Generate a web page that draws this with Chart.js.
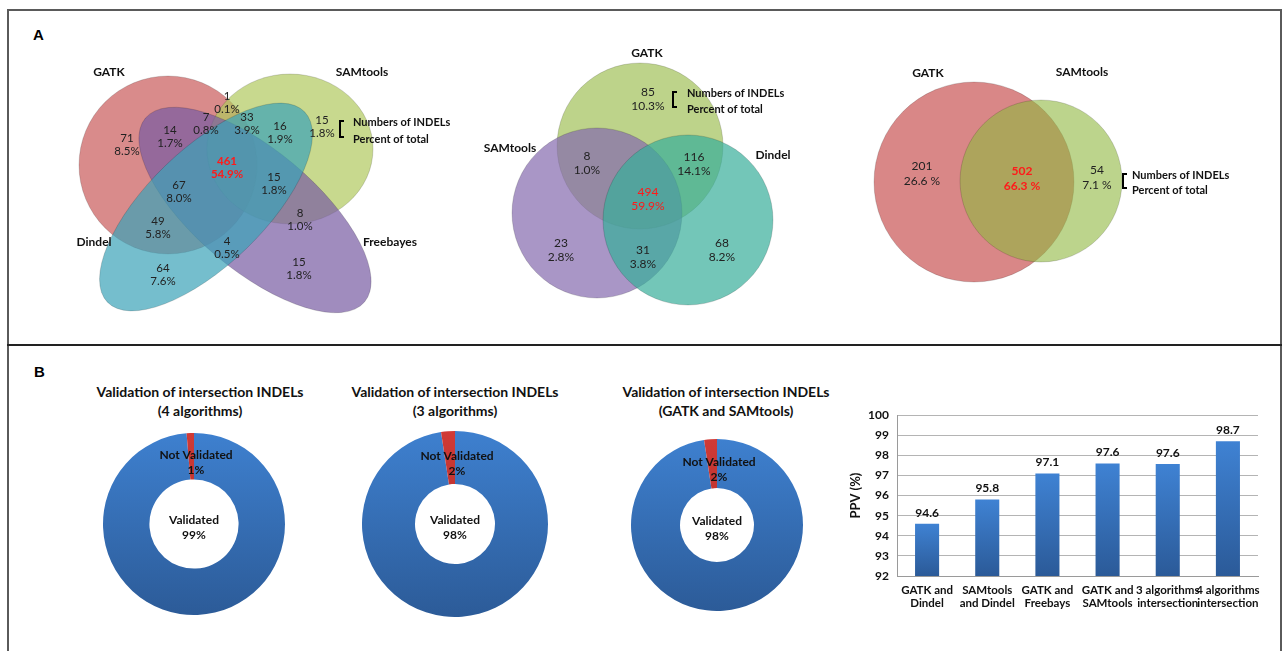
<!DOCTYPE html>
<html>
<head>
<meta charset="utf-8">
<script src="https://cdn.jsdelivr.net/npm/chart.js@4.4.0/dist/chart.umd.min.js"></script>
<style>
body { margin: 0; background: #fff; width: 1288px; height: 651px; overflow: hidden; position: relative; font-family: Lato, sans-serif; }
.frame { position: absolute; left: 7px; top: 9px; width: 1275px; height: 700px; border: 2px solid #5a5a5a; box-sizing: border-box; }
.divider { position: absolute; left: 7px; top: 344px; width: 1275px; height: 2px; background: #222; }
.panel { position: absolute; font: bold 15px "Liberation Sans", Arial, sans-serif; color: #000; line-height: 15px; }
.dtitle { position: absolute; width: 300px; text-align: center; font: bold 14px Lato, sans-serif; line-height: 19px; color: #111; }
canvas { position: absolute; }
</style>
</head>
<body>
<div class="frame"></div>
<div class="divider"></div>
<div class="panel" style="left:33px;top:27px">A</div>
<div class="panel" style="left:34px;top:364px">B</div>

<canvas id="venn4" width="440" height="300" style="left:20px;top:40px"></canvas>
<canvas id="venn3" width="350" height="300" style="left:470px;top:30px"></canvas>
<canvas id="venn2" width="440" height="280" style="left:840px;top:40px"></canvas>

<div class="dtitle" id="t1" style="left:50px;top:382px"></div>
<div class="dtitle" id="t2" style="left:305px;top:382px"></div>
<div class="dtitle" id="t3" style="left:576px;top:382px"></div>
<canvas id="donut1" width="182" height="182" style="left:103px;top:433px"></canvas>
<canvas id="donut2" width="186" height="186" style="left:362px;top:431px"></canvas>
<canvas id="donut3" width="172" height="172" style="left:631px;top:439px"></canvas>

<canvas id="bars" width="440" height="240" style="left:840px;top:400px"></canvas>

<script>
// ---- data ----
const venn4Sets = ['GATK', 'SAMtools', 'Dindel', 'Freebayes'];
const venn4Counts = [1, 7, 33, 14, 16, 15, 71, 461, 15, 67, 49, 8, 4, 64, 15];
const venn4Pcts = ['0.1%', '0.8%', '3.9%', '1.7%', '1.9%', '1.8%', '8.5%', '54.9%', '1.8%', '8.0%', '5.8%', '1.0%', '0.5%', '7.6%', '1.8%'];

const venn3Sets = ['GATK', 'SAMtools', 'Dindel'];
const venn3Counts = [85, 8, 116, 494, 23, 31, 68];
const venn3Pcts = ['10.3%', '1.0%', '14.1%', '59.9%', '2.8%', '3.8%', '8.2%'];

const venn2Sets = ['GATK', 'SAMtools'];
const venn2Counts = [201, 502, 54];
const venn2Pcts = ['26.6 %', '66.3 %', '7.1 %'];

const keyLines = ['Numbers of INDELs', 'Percent of total'];

const donutTitles = [
    ['Validation of intersection INDELs', '(4 algorithms)'],
    ['Validation of intersection INDELs', '(3 algorithms)'],
    ['Validation of intersection INDELs', '(GATK and SAMtools)']
];
const donutLabels = ['Validated', 'Not Validated'];
const donut4alg = [98.7, 1.3];
const donut3alg = [97.6, 2.4];
const donut2alg = [97.6, 2.4];

const barLabels = [['GATK and', 'Dindel'], ['SAMtools', 'and Dindel'], ['GATK and', 'Freebays'], ['GATK and', 'SAMtools'], ['3 algorithms', 'intersection'], ['4 algorithms', 'intersection']];
const ppv = [94.6, 95.8, 97.1, 97.6, 97.57, 98.7];

// ---- venn layout (page pixel units) ----
const venn4Shapes = [
    { cx: 168, cy: 165, rx: 89, ry: 89, angle: 0, color: 'rgba(204,100,100,0.75)' },
    { cx: 290, cy: 149, rx: 83, ry: 75, angle: 0, color: 'rgba(176,201,94,0.7)' },
    { cx: 255, cy: 210, rx: 143, ry: 60, angle: 40, color: 'rgba(119,91,162,0.7)' },
    { cx: 206, cy: 207, rx: 137, ry: 58, angle: -44, color: 'rgba(59,162,184,0.7)' }
];
const venn4Pos = [[227, 103], [206, 124], [247, 124], [170, 137], [280, 133], [322, 127], [127, 145], [227, 168], [274, 184], [179, 192], [158, 228], [300, 220], [227, 248], [163, 275], [299, 269]];
const venn4NamePos = [[109, 72], [362, 72], [94, 242], [390, 242]];

const venn3Shapes = [
    { cx: 640, cy: 146, rx: 83, ry: 83, angle: 0, color: 'rgba(161,192,88,0.7)' },
    { cx: 597, cy: 213, rx: 85, ry: 85, angle: 0, color: 'rgba(132,105,174,0.7)' },
    { cx: 688, cy: 220, rx: 85, ry: 85, angle: 0, color: 'rgba(56,174,154,0.7)' }
];
const venn3Pos = [[648, 99], [587, 163], [694, 164], [648, 199], [561, 250], [643, 257], [722, 250]];
const venn3NamePos = [[647, 53], [510, 148], [773, 155]];

const venn2Shapes = [
    { cx: 974, cy: 182, rx: 100, ry: 100, angle: 0, color: 'rgba(204,95,95,0.75)' },
    { cx: 1041, cy: 181, rx: 81, ry: 81, angle: 0, color: 'rgba(143,183,63,0.6)' }
];
const venn2Pos = [[922, 174], [1022, 179], [1097, 178]];
const venn2NamePos = [[928, 73], [1082, 72]];

const vennPlugin = {
    id: 'venn',
    beforeDatasetsDraw(chart, args, opts) {
        const { ctx, scales: { x, y } } = chart;
        opts.shapes.forEach(s => {
            const cx = x.getPixelForValue(s.cx), cy = y.getPixelForValue(s.cy);
            const rx = Math.abs(x.getPixelForValue(s.cx + s.rx) - cx);
            const ry = Math.abs(y.getPixelForValue(s.cy + s.ry) - cy);
            ctx.save();
            ctx.beginPath();
            ctx.ellipse(cx, cy, rx, ry, s.angle * Math.PI / 180, 0, Math.PI * 2);
            ctx.fillStyle = s.color;
            ctx.fill();
            ctx.strokeStyle = 'rgba(0,0,0,0.15)';
            ctx.lineWidth = 1;
            ctx.stroke();
            ctx.restore();
        });
    },
    afterDatasetsDraw(chart, args, opts) {
        const { ctx, scales: { x, y } } = chart;
        ctx.save();
        ctx.textAlign = 'center';
        ctx.textBaseline = 'middle';
        // region labels
        const meta = chart.getDatasetMeta(0);
        meta.data.forEach((pt, i) => {
            const hl = i === opts.highlight;
            ctx.fillStyle = hl ? '#ff1a1a' : '#222';
            ctx.font = (hl && opts.boldHighlight ? 'bold ' : '') + opts.fontSize + 'px Lato, sans-serif';
            ctx.fillText(String(opts.counts[i]), pt.x, pt.y - opts.gap / 2);
            ctx.fillText(opts.pcts[i], pt.x, pt.y + opts.gap / 2);
        });
        // set names
        ctx.fillStyle = '#111';
        ctx.font = 'bold 12px Lato, sans-serif';
        chart.getDatasetMeta(1).data.forEach((pt, i) => {
            ctx.fillText(opts.names[i], pt.x, pt.y);
        });
        // key bracket
        const k = opts.key;
        const bx = x.getPixelForValue(k.x), by1 = y.getPixelForValue(k.y1), by2 = y.getPixelForValue(k.y2);
        ctx.strokeStyle = '#000';
        ctx.lineWidth = 2;
        ctx.beginPath();
        ctx.moveTo(bx + 4, by1);
        ctx.lineTo(bx, by1);
        ctx.lineTo(bx, by2);
        ctx.lineTo(bx + 4, by2);
        ctx.stroke();
        ctx.textAlign = 'left';
        ctx.font = 'bold 11px Lato, sans-serif';
        ctx.fillText(keyLines[0], x.getPixelForValue(k.tx), by1 + 1);
        ctx.fillText(keyLines[1], x.getPixelForValue(k.tx), by2 + 2);
        ctx.restore();
    }
};

function makeVenn(id, left, top, w, h, shapes, pos, namePos, names, counts, pcts, opts) {
    return new Chart(document.getElementById(id), {
        type: 'scatter',
        data: {
            datasets: [
                { data: pos.map(p => ({ x: p[0], y: p[1] })), pointRadius: 0 },
                { data: namePos.map(p => ({ x: p[0], y: p[1] })), pointRadius: 0 }
            ]
        },
        options: {
            responsive: false,
            animation: false,
            layout: { padding: 0 },
            scales: {
                x: { type: 'linear', min: left, max: left + w, display: false },
                y: { type: 'linear', min: top, max: top + h, reverse: true, display: false }
            },
            plugins: {
                legend: { display: false },
                tooltip: { enabled: false },
                venn: Object.assign({ shapes, names, counts, pcts }, opts)
            }
        },
        plugins: [vennPlugin]
    });
}

makeVenn('venn4', 20, 40, 440, 300, venn4Shapes, venn4Pos, venn4NamePos, venn4Sets, venn4Counts, venn4Pcts,
    { highlight: 7, boldHighlight: true, fontSize: 11.5, gap: 13, key: { x: 340, y1: 121, y2: 137, tx: 353 } });
makeVenn('venn3', 470, 30, 350, 300, venn3Shapes, venn3Pos, venn3NamePos, venn3Sets, venn3Counts, venn3Pcts,
    { highlight: 3, boldHighlight: false, fontSize: 12, gap: 14, key: { x: 673, y1: 92, y2: 107, tx: 687 } });
makeVenn('venn2', 840, 40, 440, 280, venn2Shapes, venn2Pos, venn2NamePos, venn2Sets, venn2Counts, venn2Pcts,
    { highlight: 1, boldHighlight: true, fontSize: 12, gap: 15, key: { x: 1123, y1: 174, y2: 188, tx: 1132 } });

// ---- doughnuts ----
const donutLabelPlugin = {
    id: 'donutLabels',
    afterDatasetsDraw(chart) {
        const { ctx } = chart;
        const meta = chart.getDatasetMeta(0);
        const vals = chart.data.datasets[0].data;
        const total = vals.reduce((a, b) => a + b, 0);
        const c = meta.data[0];
        const ringMid = (c.outerRadius + c.innerRadius) / 2;
        ctx.save();
        ctx.textAlign = 'center';
        ctx.textBaseline = 'middle';
        ctx.fillStyle = '#111';
        ctx.font = 'bold 12px Lato, sans-serif';
        ctx.fillText(chart.data.labels[0], c.x, c.y - 4);
        ctx.fillText(Math.round(vals[0] / total * 100) + '%', c.x, c.y + 11);
        ctx.fillText(chart.data.labels[1], c.x + 2, c.y - ringMid - 1);
        ctx.fillText(Math.round(vals[1] / total * 100) + '%', c.x + 2, c.y - ringMid + 14);
        ctx.restore();
    }
};

function makeDonut(id, titleId, titleLines, values, cutout) {
    document.getElementById(titleId).innerHTML = titleLines.join('<br>');
    return new Chart(document.getElementById(id), {
        type: 'doughnut',
        data: {
            labels: donutLabels,
            datasets: [{
                data: values,
                borderWidth: 0,
                backgroundColor: ctx => {
                    const area = ctx.chart.chartArea;
                    if (!area) return '#3a74c0';
                    const g = ctx.chart.ctx.createLinearGradient(0, area.top, 0, area.bottom);
                    if (ctx.dataIndex === 0) {
                        g.addColorStop(0, '#3e80cf');
                        g.addColorStop(1, '#2c5b98');
                    } else {
                        g.addColorStop(0, '#d03a36');
                        g.addColorStop(1, '#a52a26');
                    }
                    return g;
                }
            }]
        },
        options: {
            responsive: false,
            animation: false,
            cutout: cutout,
            layout: { padding: 0 },
            plugins: { legend: { display: false }, tooltip: { enabled: false } }
        },
        plugins: [donutLabelPlugin]
    });
}

makeDonut('donut1', 't1', donutTitles[0], donut4alg, '49%');
makeDonut('donut2', 't2', donutTitles[1], donut3alg, '43%');
makeDonut('donut3', 't3', donutTitles[2], donut2alg, '43%');

// ---- bar chart ----
const barValuePlugin = {
    id: 'barValues',
    afterDatasetsDraw(chart) {
        const { ctx } = chart;
        const meta = chart.getDatasetMeta(0);
        ctx.save();
        ctx.textAlign = 'center';
        ctx.textBaseline = 'bottom';
        ctx.fillStyle = '#111';
        ctx.font = 'bold 12px Lato, sans-serif';
        meta.data.forEach((bar, i) => {
            ctx.fillText(ppv[i].toFixed(1), bar.x, bar.y - 5);
        });
        ctx.restore();
    }
};

new Chart(document.getElementById('bars'), {
    type: 'bar',
    data: {
        labels: barLabels,
        datasets: [{
            data: ppv,
            borderWidth: 0,
            barPercentage: 0.8,
            categoryPercentage: 0.5,
            backgroundColor: ctx => {
                const { chart } = ctx;
                const area = chart.chartArea;
                if (!area) return '#3a74c0';
                const top = chart.scales.y.getPixelForValue(ctx.raw);
                const g = chart.ctx.createLinearGradient(0, top, 0, area.bottom);
                g.addColorStop(0, '#3f82d3');
                g.addColorStop(1, '#2b5a98');
                return g;
            }
        }]
    },
    options: {
        responsive: false,
        animation: false,
        layout: { padding: { top: 14, right: 22, left: 0, bottom: 0 } },
        scales: {
            x: {
                grid: { display: false, drawTicks: false },
                border: { color: '#9a9a9a' },
                ticks: { color: '#111', font: { family: 'Lato', size: 11.5, weight: 'bold' }, padding: 7, maxRotation: 0, autoSkip: false },
                afterFit: s => { s.height = 64; }
            },
            y: {
                min: 92,
                max: 100,
                ticks: { stepSize: 1, color: '#111', font: { family: 'Lato', size: 12, weight: 'bold' }, padding: 8 },
                grid: { color: '#b4b4b4', drawTicks: false },
                border: { color: '#9a9a9a' },
                title: { display: true, text: 'PPV (%)', color: '#111', font: { family: 'Lato', size: 13, weight: 'bold' }, padding: { top: 8 } },
                afterFit: s => { s.width = 57; }
            }
        },
        plugins: { legend: { display: false }, tooltip: { enabled: false } }
    },
    plugins: [barValuePlugin]
});
</script>
</body>
</html>
